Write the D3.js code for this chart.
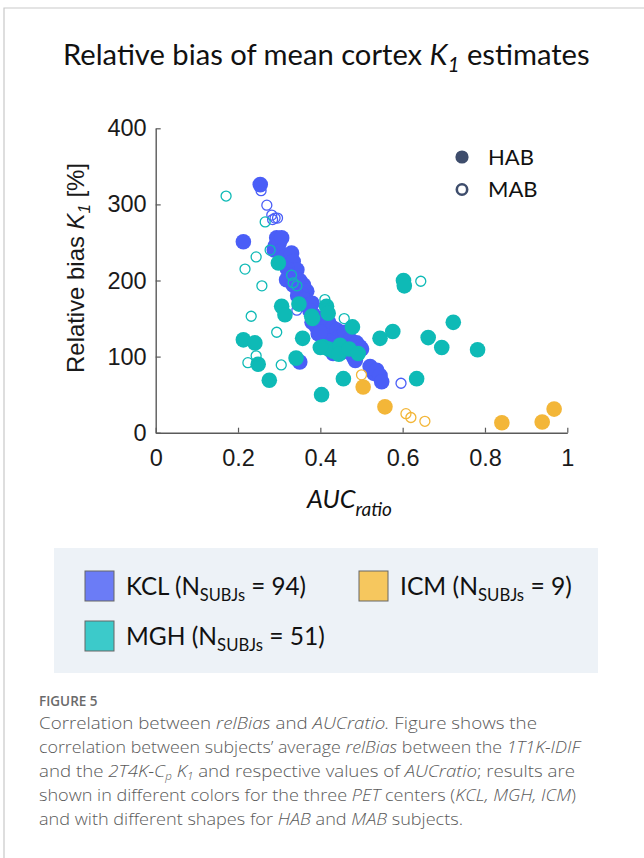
<!DOCTYPE html>
<html>
<head>
<meta charset="utf-8">
<script src="https://cdn.jsdelivr.net/npm/d3@7"></script>
<style>
  html, body { margin: 0; padding: 0; background: #fff; }
  svg { display: block; }
</style>
</head>
<body>
<script>
// ---------------- DATA ----------------
const xTicks = [0, 0.2, 0.4, 0.6, 0.8, 1];
const yTicks = [0, 100, 200, 300, 400];

// [AUCratio, relative bias %]
const kclHAB = [[0.254,326],[0.213,251],[0.288,240],[0.290,245],[0.294,256],[0.300,249],[0.306,256],[0.300,238],
  [0.310,230],[0.330,236],[0.334,225],[0.343,214],[0.320,215],[0.325,205],[0.318,201],[0.334,194],[0.343,190],
  [0.350,200],[0.359,194],[0.367,186],[0.355,182],[0.345,180],[0.360,175],[0.365,168],[0.371,166],[0.380,170],
  [0.375,160],[0.383,155],[0.380,145],[0.390,148],[0.391,139],[0.400,150],[0.405,140],[0.395,130],[0.410,128],
  [0.415,133],[0.420,145],[0.425,120],[0.430,138],[0.440,135],[0.435,115],[0.445,125],[0.456,128],[0.460,132],
  [0.450,105],[0.455,115],[0.464,109],[0.472,122],[0.470,112],[0.480,100],[0.488,118],[0.485,95],[0.490,105],
  [0.496,113],[0.500,110],[0.431,104],[0.420,120],[0.400,132],[0.350,93],[0.521,87],[0.530,78],[0.537,82],
  [0.545,75],[0.549,67]];
const kclMAB = [[0.256,318],[0.270,299],[0.282,286],[0.284,280],[0.290,282],[0.296,282],[0.343,161],[0.596,65],[0.327,210]];
const mghHAB = [[0.298,223],[0.306,166],[0.314,155],[0.348,169],[0.379,153],[0.381,150],[0.415,166],[0.419,157],
  [0.478,139],[0.357,124],[0.213,122],[0.241,118],[0.407,113],[0.420,110],[0.432,107],[0.448,115],[0.445,103],
  [0.470,110],[0.492,104],[0.545,124],[0.576,133],[0.249,90],[0.341,98],[0.276,69],[0.456,71],[0.403,50],
  [0.602,200],[0.604,193],[0.662,125],[0.695,112],[0.723,145],[0.782,109],[0.634,71],[0.400,112]];
const mghMAB = [[0.171,311],[0.266,277],[0.278,240],[0.244,231],[0.217,215],[0.330,207],[0.334,197],[0.343,193],
  [0.258,193],[0.411,175],[0.232,153],[0.458,150],[0.294,132],[0.244,101],[0.224,92],[0.305,89],[0.644,199]];
const icmHAB = [[0.504,60],[0.557,34],[0.841,13],[0.939,14],[0.968,31]];
const icmMAB = [[0.500,76],[0.608,25],[0.620,20],[0.654,15]];

const centers = ["KCL", "MGH", "ICM"];
const centerCounts = [94, 51, 9];
const centerColors = ["#4a5ef7", "#0ebab6", "#f3b638"];
const legendColors = ["#6b7cf6", "#3ccaca", "#f6c75e"];
const shapeLabels = ["HAB", "MAB"];

const series = [
  {pts: kclHAB, c: 0, open: false}, {pts: kclMAB, c: 0, open: true},
  {pts: mghHAB, c: 1, open: false}, {pts: mghMAB, c: 1, open: true},
  {pts: icmHAB, c: 2, open: false}, {pts: icmMAB, c: 2, open: true}
];

// ---------------- SETUP ----------------
const W = 644, H = 858;
const svg = d3.select("body").append("svg").attr("width", W).attr("height", H);

// figure frame
svg.append("path").attr("d", `M4,${H} V8 H${W}`).attr("fill", "none").attr("stroke", "#c9c9c9").attr("stroke-width", 1.2);

// rich text helper: parts = [{t, it, sub}]
function rich(g, x, y, parts, size, font, opts = {}) {
  const subScale = opts.subScale || 0.68, subShift = opts.subShift || 0.28;
  const t = g.append("text").attr("x", x).attr("y", y)
    .attr("font-family", font).attr("font-size", size)
    .attr("fill", opts.fill || "#111")
    .attr("font-weight", opts.weight || 400)
    .attr("text-anchor", opts.anchor || "start");
  let cur = 0;
  parts.forEach(p => {
    const want = p.sub ? size * subShift : 0;
    const ts = t.append("tspan").text(p.t).attr("dy", want - cur);
    cur = want;
    if (p.it) ts.attr("font-style", "italic");
    if (p.sub) ts.attr("font-size", size * subScale);
  });
  return t;
}
function fitRich(g, x, y, parts, size, font, targetW, opts = {}) {
  let t = rich(g, x, y, parts, size, font, opts);
  const w = t.node().getComputedTextLength();
  t.remove();
  return rich(g, x, y, parts, size * targetW / w, font, opts);
}

// ---------------- TITLE ----------------
fitRich(svg, 63, 65, [
  {t: "Relative bias of mean cortex "}, {t: "K", it: true}, {t: "1", it: true, sub: true}, {t: " estimates"}
], 27, "Lato, 'Open Sans', sans-serif", 527, {fill: "#111", subScale: 0.7, subShift: 0.25});

// ---------------- SCALES & AXES ----------------
const x = d3.scaleLinear().domain([0, 1]).range([155.7, 567.3]);
const y = d3.scaleLinear().domain([0, 400]).range([432.7, 128.3]);

const yAxis = svg.append("g").attr("transform", `translate(${x(0)},0)`)
  .call(d3.axisLeft(y).tickValues(yTicks).tickSizeInner(-5).tickSizeOuter(0).tickPadding(9).tickFormat(d3.format("d")));
const xAxis = svg.append("g").attr("transform", `translate(0,${y(0)})`)
  .call(d3.axisBottom(x).tickValues(xTicks).tickSizeInner(-5).tickSizeOuter(0).tickPadding(17).tickFormat(d => d === 0 || d === 1 ? String(d) : d3.format(".1f")(d)));
[xAxis, yAxis].forEach(a => {
  a.select(".domain").attr("stroke", "#5a5a5a").attr("stroke-width", 1.4);
  a.selectAll(".tick line").attr("stroke", "#5a5a5a").attr("stroke-width", 1.2);
  a.selectAll(".tick text").attr("font-family", "'Liberation Sans', Arial, sans-serif").attr("font-size", 23.5).attr("fill", "#1a1a1a");
});

// axis labels
const yl = svg.append("g").attr("transform", "translate(84,268) rotate(-90)");
fitRich(yl, 0, 0, [
  {t: "Relative bias "}, {t: "K", it: true}, {t: "1", it: true, sub: true}, {t: "  [%]"}
], 22, "'Liberation Sans', Arial, sans-serif", 210, {anchor: "middle", fill: "#1a1a1a", subScale: 0.7, subShift: 0.25});

fitRich(svg, 307, 508, [
  {t: "AUC", it: true}, {t: "ratio", it: true, sub: true}
], 25, "Lato, 'Open Sans', sans-serif", 85, {fill: "#111", subScale: 0.75, subShift: 0.3});

// ---------------- POINTS ----------------
const plot = svg.append("g");
series.forEach(s => {
  plot.append("g").selectAll("circle").data(s.pts).join("circle")
    .attr("cx", d => x(d[0])).attr("cy", d => y(d[1]))
    .attr("r", s.open ? 5 : 7.8)
    .attr("fill", s.open ? "none" : centerColors[s.c])
    .attr("stroke", s.open ? centerColors[s.c] : "none")
    .attr("stroke-width", s.open ? 1.3 : 0);
});

// HAB / MAB legend
const sl = svg.append("g");
const markColor = "#3e4d6c";
sl.append("circle").attr("cx", 462).attr("cy", 157).attr("r", 6.6).attr("fill", markColor);
sl.append("circle").attr("cx", 462).attr("cy", 189.5).attr("r", 5.2).attr("fill", "none").attr("stroke", markColor).attr("stroke-width", 2.6);
shapeLabels.forEach((lab, i) => {
  sl.append("text").attr("x", 488).attr("y", 165 + i * 32).text(lab)
    .attr("font-family", "Lato, 'Open Sans', sans-serif").attr("font-size", 22).attr("fill", "#111");
});

// ---------------- CENTER LEGEND ----------------
const lg = svg.append("g");
lg.append("rect").attr("x", 54).attr("y", 548).attr("width", 544).attr("height", 125).attr("fill", "#edf2f7");
const legPos = [{x: 85, y: 571}, {x: 85, y: 621}, {x: 359, y: 571}];
const legW = [180, 199, 172];
centers.forEach((c, i) => {
  const p = legPos[i];
  lg.append("rect").attr("x", p.x).attr("y", p.y).attr("width", 29).attr("height", 30)
    .attr("fill", legendColors[i]).attr("stroke", "#666").attr("stroke-width", 1);
  fitRich(lg, p.x + 41, p.y + 24, [
    {t: c + " (N"}, {t: "SUBJs", sub: true}, {t: " = " + centerCounts[i] + ")"}
  ], 26, "Lato, 'Open Sans', sans-serif", legW[i], {fill: "#111", subScale: 0.68, subShift: 0.26});
});

// ---------------- CAPTION ----------------
const cap = svg.append("g");
cap.append("text").attr("x", 39).attr("y", 706).text("FIGURE 5")
  .attr("font-family", "'Open Sans', sans-serif").attr("font-size", 13.5).attr("font-weight", 600)
  .attr("fill", "#6a6a6a");
const capLines = [
  [{t: "Correlation between "}, {t: "relBias", it: true}, {t: " and "}, {t: "AUCratio.", it: true}, {t: " Figure shows the"}],
  [{t: "correlation between subjects\u2019 average "}, {t: "relBias", it: true}, {t: " between the "}, {t: "1T1K-IDIF", it: true}],
  [{t: "and the "}, {t: "2T4K-C", it: true}, {t: "p", it: true, sub: true}, {t: " "}, {t: "K", it: true}, {t: "1", it: true, sub: true}, {t: " and respective values of "}, {t: "AUCratio", it: true}, {t: "; results are"}],
  [{t: "shown in different colors for the three "}, {t: "PET", it: true}, {t: " centers ("}, {t: "KCL, MGH, ICM", it: true}, {t: ")"}],
  [{t: "and with different shapes for "}, {t: "HAB", it: true}, {t: " and "}, {t: "MAB", it: true}, {t: " subjects."}]
];
const capWidths = [498, 541, 536, 537, 424];
capLines.forEach((ln, i) => {
  const t = rich(cap, 39, 729 + i * 24, ln, 17, "'Open Sans', sans-serif", {fill: "#5a5a5a", weight: 300, subScale: 0.62, subShift: 0.2});
  t.attr("textLength", capWidths[i]).attr("lengthAdjust", "spacingAndGlyphs");
});
</script>
</body>
</html>
